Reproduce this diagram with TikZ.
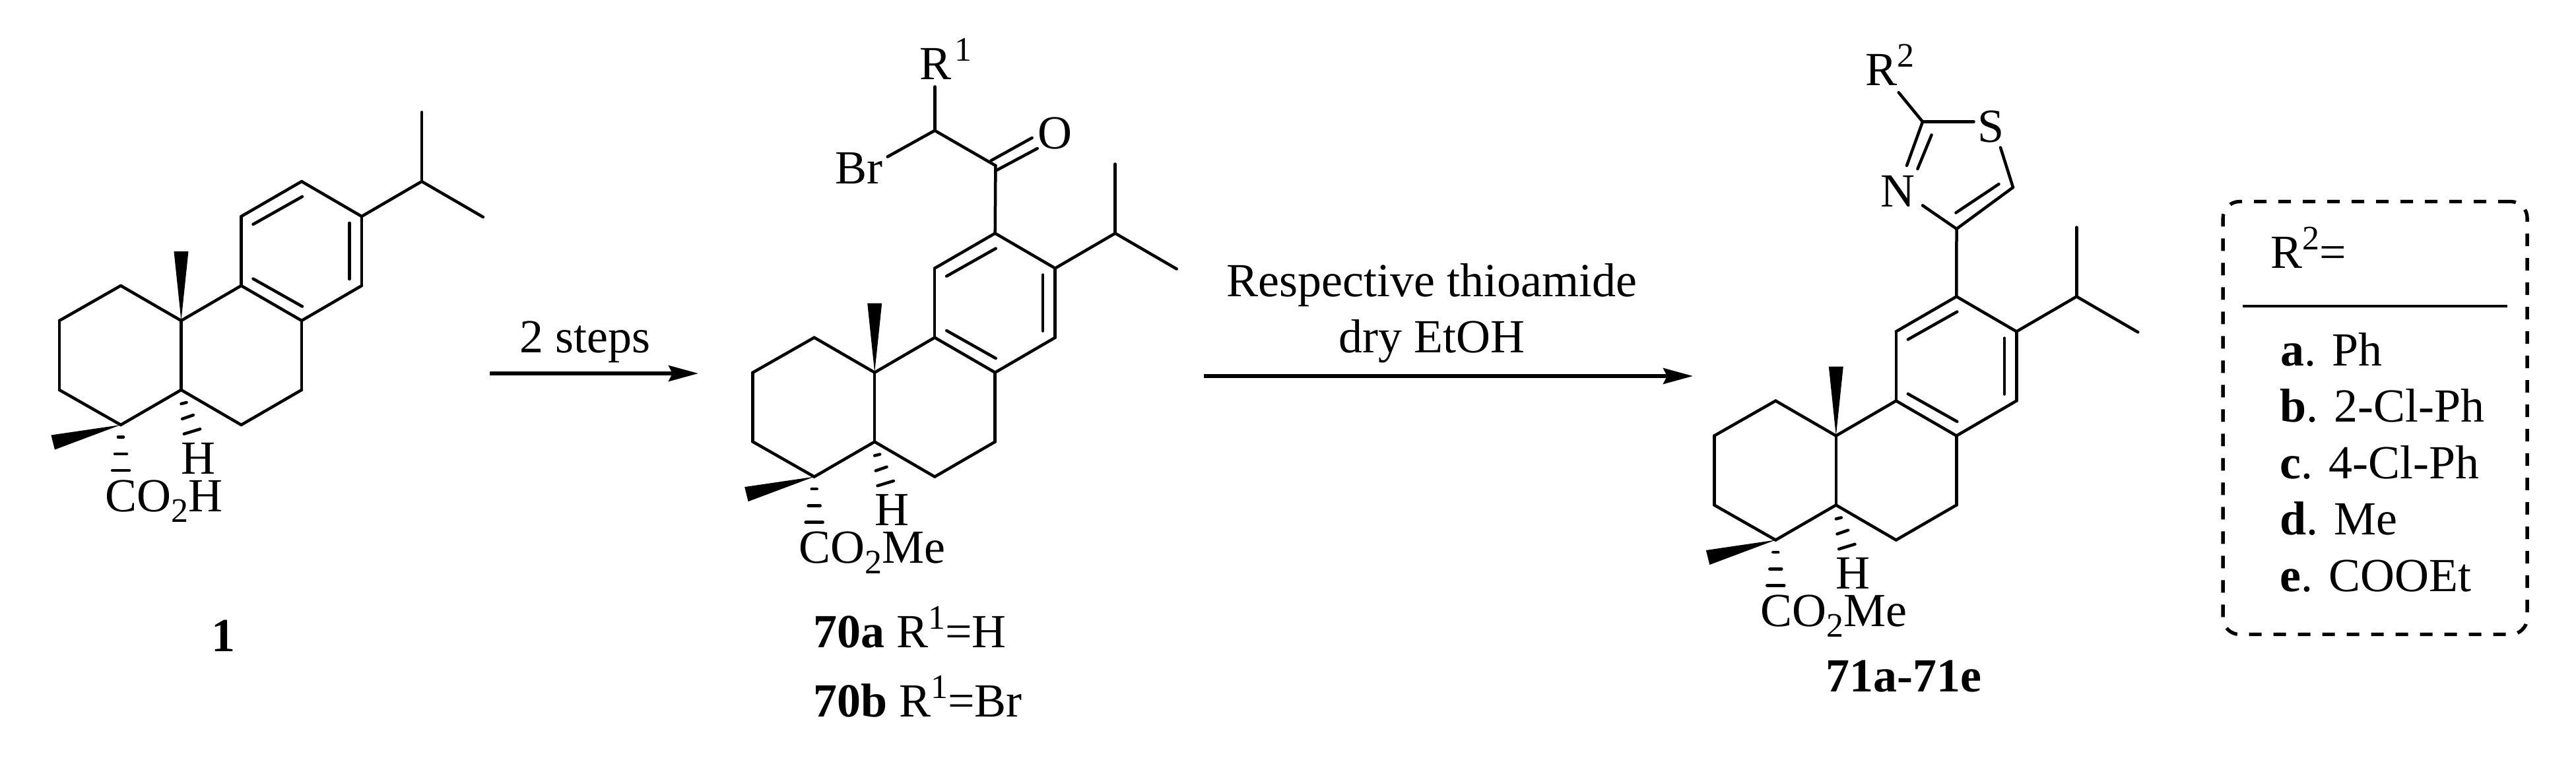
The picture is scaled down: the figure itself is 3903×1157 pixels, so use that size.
\documentclass[tikz,border=0pt]{standalone}
\usepackage{fontspec}
\setmainfont{Liberation Serif}
\usetikzlibrary{arrows.meta}

\newcommand{\subnum}[1]{\raisebox{-16pt}{\fontsize{52}{52}\selectfont #1}}
\newcommand{\supnum}[1]{\raisebox{28pt}{\fontsize{52}{52}\selectfont #1}}

\newcommand{\skeleton}[3]{
  \begin{scope}[shift={(#2)}]
    \foreach \n/\x/\y in {c1/-91.5/-53, c2/-184.5/0, c3/-184.5/105, c4/-91.5/158, c5/0/105,
        c10/0/0, c9/91/-53, c8/182.5/0, c7/182.5/105, c6/91/158, c11/91/-158, c12/182.5/-211,
        c13/273.5/-158, c14/273.5/-53, c15/364.5/-211, c16/364.5/-316, c17/457.5/-157,
        d1/109/-146, d2/183.5/-188, d3/255/-148, d4/255/-63, d5/109/-63.5, d6/183.5/-21.5}
      \coordinate (#1\n) at (\x,\y);
    \foreach \a/\b in {c1/c2, c2/c3, c3/c4, c4/c5, c5/c10, c10/c1, c10/c9, c9/c8, c8/c7, c7/c6,
        c6/c5, c9/c11, c11/c12, c12/c13, c13/c14, c14/c8, c13/c15, c15/c16, c15/c17,
        d1/d2, d3/d4, d5/d6}
      \draw[bond] (#1\a) -- (#1\b);
    \fill (#1c10) -- (-11,-105) -- (11,-105) -- cycle;
    \fill (#1c4) -- (-197,173.5) -- (-191.5,195.5) -- cycle;
    \foreach \x/\y/\dx in {-91.5/176.5/4, -91.5/202/9, -91.5/227/13}
      \draw[bond] (\x-\dx,\y) -- (\x+\dx,\y);
    \foreach \x/\y/\dx/\dy in {4/125/4/1, 10/146/8.4/2.9, 16.5/168/12.2/3.7}
      \draw[bond] (\x-\dx,\y+\dy) -- (\x+\dx,\y-\dy);
    \node[lab, anchor=base] (#1h) at (26,232) {H};
    \node[lab] (#1e) at (-115,289) {#3};
  \end{scope}
}

\begin{document}
\begin{tikzpicture}[x=1pt, y=-1pt,
  every node/.style = {font=\fontsize{72}{80}\selectfont},
  lab/.style = {inner sep=0, anchor=base west},
  bond/.style = {line width=4.5pt, line cap=round},
  react/.style = {line width=5.3pt, -{Stealth[length=45pt, width=24pt, inset=6pt]}}]
  \useasboundingbox (0,0) rectangle (3903,1157);

  \skeleton{p}{274.5,486}{CO\subnum{2}H}
  \node[lab, anchor=base, font=\fontsize{72}{80}\selectfont\bfseries] (n1) at (338,987) {1};

  \coordinate (a1) at (742,566);
  \coordinate (a2) at (1058,566);
  \draw[react] (a1) -- (a2);
  \node[lab, anchor=base] (steps) at (886.5,534) {2 steps};

  \skeleton{q}{1325.2,564.6}{CO\subnum{2}Me}
  \coordinate (qco) at (1508.4,251);
  \coordinate (qch) at (1416.3,197.8);
  \coordinate (qr) at (1416.3,131.4);
  \coordinate (qbr) at (1344.7,237.6);
  \coordinate (qo1) at (1501.4,243.5);
  \coordinate (qo2) at (1563.7,208.9);
  \coordinate (qo3) at (1509.5,258.3);
  \coordinate (qo4) at (1571.8,225);
  \draw[bond] (qc12) -- (qco);
  \draw[bond] (qco) -- (qch);
  \draw[bond] (qch) -- (qr);
  \draw[bond] (qch) -- (qbr);
  \draw[bond] (qo1) -- (qo2);
  \draw[bond] (qo3) -- (qo4);
  \node[lab] (qrl) at (1393,120) {R\kern5pt\supnum{1}};
  \node[lab] (qbrl) at (1265,278) {Br};
  \node[lab, anchor=base] (qol) at (1598,225) {O};
  \node[lab] (n70a) at (1232,981.5) {\textbf{70a} R\supnum{1}=H};
  \node[lab] (n70b) at (1232,1086) {\textbf{70b} R\supnum{1}=Br};

  \coordinate (b1) at (1824,570);
  \coordinate (b2) at (2565,570);
  \draw[react] (b1) -- (b2);
  \node[lab, anchor=base] (cond1) at (2169,449) {Respective thioamide};
  \node[lab, anchor=base] (cond2) at (2169,534) {dry EtOH};

  \skeleton{s}{2781.8,660.5}{CO\subnum{2}Me}
  \coordinate (tc4) at (2964.5,346.9);
  \coordinate (tc5) at (3050,284);
  \coordinate (tc2) at (2913,184.5);
  \coordinate (ts1) at (3031,223.6);
  \coordinate (ts2) at (2990.5,184.5);
  \coordinate (tn1) at (2889,251);
  \coordinate (tn2) at (2913,311.4);
  \coordinate (ti1) at (2963.4,322.5);
  \coordinate (ti2) at (3028.5,279);
  \coordinate (ti3) at (2926.6,204.4);
  \coordinate (ti4) at (2905.4,256);
  \coordinate (tr) at (2876.7,140.2);
  \draw[bond] (sc12) -- (tc4);
  \draw[bond] (tc4) -- (tc5);
  \draw[bond] (tc5) -- (ts1);
  \draw[bond] (tc2) -- (ts2);
  \draw[bond] (tc2) -- (tn1);
  \draw[bond] (tn2) -- (tc4);
  \draw[bond] (tc2) -- (tr);
  \draw[bond] (ti1) -- (ti2);
  \draw[bond] (ti3) -- (ti4);
  \node[lab] (trl) at (2826,129) {R\supnum{2}};
  \node[lab, anchor=base] (tsl) at (3016,215.5) {S};
  \node[lab, anchor=base] (tnl) at (2875,313.7) {N};
  \node[lab] (n71) at (2766,1048) {\textbf{71a-71e}};

  \node[draw, dashed, dash pattern=on 19pt off 18pt, line width=5.3pt, rounded corners=25pt,
    minimum width=461pt, minimum height=656pt, inner sep=0] (box) at (3598.6,633.5) {};
  \coordinate (r1) at (3398.4,464);
  \coordinate (r2) at (3798.7,464);
  \draw[bond, line cap=butt] (r1) -- (r2);
  \node[lab] (rtop) at (3440.5,406.3) {R\supnum{2}=};
  \node[lab] (ra) at (3455,554.5) {\textbf{a}. Ph};
  \node[lab] (rb) at (3454,639.4) {\textbf{b}. 2-Cl-Ph};
  \node[lab] (rc) at (3454,725) {\textbf{c}. 4-Cl-Ph};
  \node[lab] (rd) at (3454,810) {\textbf{d}. Me};
  \node[lab] (re) at (3454,896) {\textbf{e}. COOEt};
\end{tikzpicture}
\end{document}
